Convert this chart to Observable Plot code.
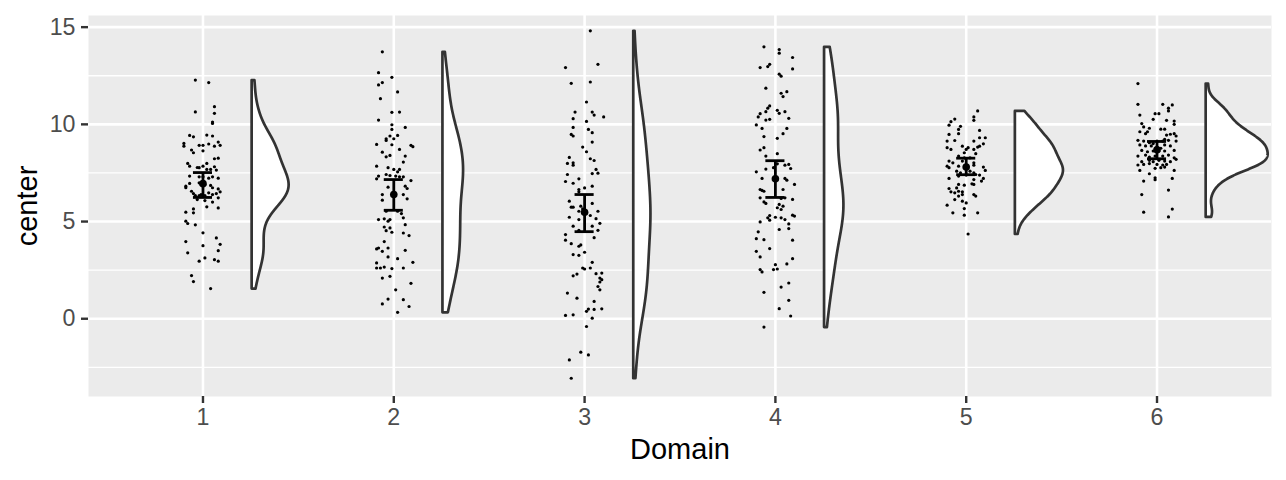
<!DOCTYPE html>
<html>
<head>
<meta charset="utf-8">
<script src="https://cdn.jsdelivr.net/npm/d3@7"></script>
<script src="https://cdn.jsdelivr.net/npm/@observablehq/plot@0.6"></script>
<style>
  html, body { margin: 0; padding: 0; background: #fff; }
  #chart svg { display: block; }
</style>
</head>
<body>
<div id="chart"></div>
<script>
// ---- data ----
const domains = [1, 2, 3, 4, 5, 6];

const g1Value = [12.28,12.15,10.91,10.64,10.57,10.12,10.05,9.43,9.36,9.45,9.40,9.02,8.88,9.09,8.92,8.92,8.92,8.99,8.88,8.68,8.54,8.64,8.26,8.23,7.99,7.85,7.99,7.85,7.77,7.78,7.82,7.68,7.68,7.65,7.34,7.30,7.30,7.23,7.30,7.23,6.82,6.74,6.96,6.99,6.91,6.91,6.86,6.74,6.68,6.56,6.44,6.34,6.34,6.39,6.34,6.48,6.39,6.44,6.53,6.22,6.13,6.08,6.00,5.70,5.76,5.65,5.48,5.45,5.02,4.90,4.83,4.42,4.16,3.97,3.76,3.83,3.50,3.39,3.13,2.96,3.04,2.96,2.22,1.91,1.55];
const g1Jitter = [-0.04,0.03,0.06,-0.04,0.06,0.05,0.05,-0.07,-0.05,0.02,0.05,-0.10,-0.10,0.08,0.09,-0.02,0.00,0.03,0.06,-0.06,-0.05,0.00,0.08,0.06,-0.08,-0.07,0.02,0.00,-0.02,-0.03,0.06,0.04,0.02,0.07,-0.07,-0.02,0.00,0.03,0.05,0.08,-0.09,-0.09,-0.07,-0.02,-0.01,0.01,0.04,0.05,0.08,-0.06,-0.05,-0.04,-0.02,-0.01,0.01,0.03,0.05,0.07,0.09,0.08,-0.03,0.01,0.05,0.08,0.02,-0.05,-0.09,-0.05,-0.09,-0.08,-0.04,0.00,0.07,-0.09,0.00,0.09,0.08,-0.08,0.01,-0.02,0.06,0.08,-0.06,-0.05,0.04];

const g2Value = [13.73,12.66,12.42,12.15,12.03,11.67,11.32,10.62,10.63,10.22,9.98,9.84,9.74,9.43,9.40,9.26,9.26,9.17,8.97,8.92,8.85,8.95,8.71,8.57,8.37,8.33,8.40,8.06,7.85,7.77,7.68,7.56,7.68,7.34,7.20,7.42,7.37,7.34,7.30,7.30,7.11,6.77,6.82,6.70,6.39,6.30,6.39,6.10,6.17,5.53,5.53,5.41,5.19,5.10,5.14,5.02,5.10,4.84,4.72,4.67,4.53,4.45,4.41,4.28,3.97,3.64,3.59,3.64,3.47,3.52,3.18,3.09,2.87,2.90,2.61,2.61,2.66,2.58,2.61,2.09,2.18,1.82,1.49,1.01,0.98,0.76,0.63,0.33];
const g2Jitter = [-0.06,-0.08,-0.01,-0.06,-0.08,0.02,-0.07,-0.01,0.03,-0.08,-0.01,0.06,-0.01,0.02,-0.02,-0.04,0.00,-0.04,-0.09,0.09,0.10,-0.01,0.03,-0.06,0.06,-0.04,-0.02,0.05,-0.09,-0.03,0.00,0.02,0.03,-0.08,-0.09,-0.04,-0.02,0.01,0.03,0.05,0.09,-0.03,0.06,0.07,-0.06,0.00,0.05,-0.06,0.07,-0.04,0.02,0.04,0.05,-0.08,-0.05,-0.03,-0.02,0.06,-0.05,-0.02,-0.04,-0.01,0.05,0.08,-0.05,-0.03,-0.09,-0.08,-0.06,0.06,-0.03,0.02,-0.09,0.10,-0.09,-0.07,-0.05,-0.01,0.05,-0.06,-0.02,0.09,0.01,-0.03,0.05,-0.06,0.08,0.02];

const g3Value = [14.81,12.92,13.09,12.11,12.18,11.15,10.63,10.63,10.48,10.38,10.29,10.15,9.84,9.74,9.57,9.48,9.40,9.09,8.83,8.59,8.30,8.23,8.14,7.99,8.02,7.90,7.68,7.47,7.49,7.42,7.20,7.06,6.97,6.73,6.82,6.65,6.53,6.05,5.93,5.74,5.74,5.79,5.65,5.53,5.44,5.53,5.31,5.22,5.10,5.15,4.91,4.76,4.76,4.55,4.55,4.33,4.04,4.17,3.86,3.80,3.73,3.30,3.26,3.42,2.61,2.56,2.61,2.90,2.21,2.30,2.32,2.35,2.09,2.01,1.89,1.66,1.49,1.32,1.06,0.89,0.51,0.48,0.50,0.38,0.17,0.20,0.03,-0.40,-1.72,-1.86,-2.12,-3.06];
const g3Jitter = [0.03,-0.10,0.07,-0.07,0.03,0.01,-0.05,0.04,0.05,0.10,-0.06,0.01,-0.06,0.02,0.04,-0.07,-0.06,0.04,-0.01,0.01,-0.08,0.03,0.05,-0.09,-0.06,-0.06,0.06,0.04,0.07,-0.09,-0.03,-0.10,-0.06,0.00,0.04,-0.03,-0.03,-0.08,0.04,-0.07,-0.06,-0.02,-0.01,-0.03,0.01,0.07,0.03,-0.08,-0.03,0.06,0.08,-0.06,0.04,0.07,-0.03,-0.10,-0.10,0.05,-0.07,-0.02,-0.03,-0.06,-0.03,0.00,-0.01,0.00,0.03,0.04,-0.06,-0.04,0.06,0.09,0.08,0.09,0.08,0.07,0.08,-0.09,-0.04,0.05,0.09,0.05,0.02,0.01,-0.10,-0.06,0.04,0.01,-0.02,0.02,-0.08,-0.07];

const g4Value = [13.99,13.85,13.66,13.44,12.92,12.97,13.09,12.85,12.58,12.48,11.86,11.60,11.43,11.68,10.95,10.83,10.65,10.72,10.57,10.65,10.55,10.38,10.31,10.22,10.26,9.97,9.79,9.79,9.52,9.28,9.37,8.68,8.80,8.37,8.49,7.90,7.94,7.73,7.97,7.77,7.56,7.70,7.22,7.22,7.13,6.91,6.65,6.60,6.56,6.65,6.22,6.01,5.93,6.19,6.22,6.14,5.88,5.79,5.71,5.62,5.31,5.19,5.07,5.22,5.19,5.10,5.33,5.28,4.98,4.88,4.59,4.64,4.47,4.12,4.07,4.04,3.61,3.47,3.18,3.09,2.82,2.78,2.53,2.56,2.53,2.41,1.84,1.63,1.36,0.95,0.52,0.14,-0.43];
const g4Jitter = [-0.06,0.02,0.02,0.09,-0.08,-0.04,-0.03,0.09,0.02,0.03,-0.05,0.03,0.04,0.06,-0.03,-0.04,-0.05,0.01,0.02,0.05,-0.08,-0.09,0.07,-0.05,-0.03,-0.10,-0.07,0.06,0.04,0.01,-0.06,-0.08,-0.06,-0.05,0.01,0.05,0.07,0.08,0.01,-0.01,-0.10,-0.05,-0.07,0.05,0.06,0.10,-0.08,-0.07,-0.06,0.04,-0.08,-0.06,-0.05,0.03,0.05,0.09,0.02,0.04,0.01,0.03,-0.03,-0.04,-0.03,0.00,0.03,0.05,0.09,0.10,-0.08,0.07,0.02,0.07,-0.09,-0.10,-0.06,0.09,-0.03,-0.10,-0.08,0.09,0.06,0.00,-0.01,0.01,-0.08,-0.07,0.07,0.03,-0.06,0.07,0.02,0.08,-0.06];

const g5Value = [10.69,10.38,10.21,10.27,10.14,9.96,9.90,9.74,9.52,9.69,9.48,9.31,9.31,9.14,9.17,9.14,9.00,8.88,8.83,8.80,8.71,8.88,8.71,8.80,8.71,8.54,8.49,8.37,8.28,8.28,8.11,8.02,8.11,8.02,7.85,7.77,7.85,7.80,7.90,7.90,7.80,7.63,7.59,7.51,7.59,7.51,7.42,7.39,7.22,7.08,7.22,7.34,7.39,7.16,6.94,6.91,6.91,6.87,6.73,6.70,6.53,6.48,6.56,6.53,6.39,6.31,6.31,6.39,6.13,6.05,5.96,5.84,5.67,5.45,5.33,5.45,4.36];
const g5Jitter = [0.06,0.04,0.04,-0.06,-0.08,-0.09,-0.03,-0.04,-0.04,0.07,-0.09,0.07,0.10,-0.10,-0.06,0.04,0.09,0.07,0.06,-0.10,-0.08,-0.02,0.00,0.01,0.04,-0.01,0.05,-0.04,-0.01,0.02,-0.09,-0.07,-0.02,0.04,-0.10,-0.09,-0.04,-0.01,0.00,0.04,0.09,0.10,-0.05,-0.03,0.02,0.04,0.05,0.07,0.09,0.08,-0.09,-0.04,0.00,0.04,0.03,0.04,-0.04,-0.01,-0.05,-0.09,-0.08,-0.06,-0.04,-0.02,0.04,0.05,-0.04,-0.02,-0.06,-0.02,0.00,-0.10,-0.01,-0.07,-0.01,0.06,0.01];

const g6Value = [12.10,11.03,11.03,11.00,10.83,10.69,10.48,10.55,10.55,10.26,10.21,10.17,10.00,10.04,9.87,9.80,9.62,9.75,9.75,9.62,9.52,9.45,9.49,9.52,9.40,9.18,9.14,9.06,9.01,9.14,9.14,9.23,9.18,9.14,8.94,8.89,8.89,8.83,8.77,8.94,8.89,8.66,8.59,8.63,8.63,8.63,8.66,8.37,8.42,8.32,8.37,8.37,8.42,8.28,8.08,8.15,8.08,8.15,8.11,8.08,8.20,7.91,7.94,7.98,7.94,7.91,7.94,7.63,7.74,7.77,7.80,7.63,7.46,7.25,7.15,7.08,7.22,6.62,6.39,5.64,5.48,5.24];
const g6Jitter = [-0.10,-0.10,0.03,0.08,0.06,0.06,-0.09,-0.01,0.01,-0.02,0.05,0.09,0.09,-0.08,-0.07,-0.04,-0.05,0.02,0.04,-0.09,-0.06,0.05,0.07,0.09,0.10,-0.10,-0.07,-0.04,-0.02,0.00,0.03,0.04,0.06,0.10,-0.09,-0.06,-0.03,0.00,0.02,0.04,0.07,-0.08,-0.05,-0.02,0.01,0.04,0.09,-0.10,-0.06,-0.04,-0.01,0.03,0.06,0.09,-0.08,-0.04,-0.02,0.01,0.04,0.07,0.10,-0.10,-0.07,-0.04,0.00,0.03,0.05,-0.09,-0.01,0.02,0.04,0.09,-0.04,-0.01,-0.01,-0.07,0.08,0.06,-0.08,0.08,-0.07,0.06];

// mean and confidence interval per domain
const meanValue = [6.95, 6.39, 5.48, 7.20, 7.80, 8.69];
const ciLow     = [6.24, 5.58, 4.48, 6.24, 7.41, 8.23];
const ciHigh    = [7.52, 7.16, 6.39, 8.13, 8.26, 9.12];

const yTicks = [0, 5, 10, 15];
const yMinor = [-2.5, 2.5, 7.5, 12.5];

// ---- derived tables ----
const allValues = [g1Value, g2Value, g3Value, g4Value, g5Value, g6Value];
const allJitter = [g1Jitter, g2Jitter, g3Jitter, g4Jitter, g5Jitter, g6Jitter];

const points = domains.flatMap((g, i) =>
  allValues[i].map((v, j) => ({g, x: g + (allJitter[i][j] || 0), v})));

const summary = domains.map((g, i) => ({g, m: meanValue[i], lo: ciLow[i], hi: ciHigh[i]}));

function bwNrd0(a) {
  const s = a.slice().sort(d3.ascending);
  const sd = d3.deviation(s);
  const iqr = d3.quantile(s, 0.75) - d3.quantile(s, 0.25);
  const lo = Math.min(sd, iqr / 1.34);
  return 0.9 * lo * Math.pow(s.length, -0.2);
}
const NPTS = 512;
const dens = allValues.map((arr) => {
  const bw = bwNrd0(arr);
  const lo = d3.min(arr), hi = d3.max(arr);
  return d3.range(NPTS).map(k => {
    const y = lo + k * (hi - lo) / (NPTS - 1);
    let s = 0;
    for (const v of arr) { const z = (y - v) / bw; s += Math.exp(-0.5 * z * z); }
    return {y, d: s / (arr.length * bw * Math.sqrt(2 * Math.PI))};
  });
});
const maxD = d3.max(dens, ds => d3.max(ds, r => r.d));
const NUDGE = 0.255, MAXW = 0.325;
const violinFill = domains.flatMap((g, i) =>
  dens[i].map(r => ({g, y: r.y, x0: g + NUDGE, x1: g + NUDGE + r.d / maxD * MAXW})));
const violinLine = domains.flatMap((g, i) => {
  const ds = dens[i];
  const lo = ds[0].y, hi = ds[ds.length - 1].y;
  const pts = [{g, x: g + NUDGE, y: lo}, {g, x: g + NUDGE, y: hi}];
  for (let k = ds.length - 1; k >= 0; k--) pts.push({g, x: g + NUDGE + ds[k].d / maxD * MAXW, y: ds[k].y});
  pts.push({g, x: g + NUDGE, y: lo});
  return pts;
});

const chart = Plot.plot({
  width: 1286,
  height: 480,
  marginLeft: 88,
  marginRight: 15,
  marginTop: 15,
  marginBottom: 84,
  style: {fontFamily: "'Liberation Sans', Arial, sans-serif", background: "white", fontSize: "23px"},
  x: {type: "linear", domain: [0.4, 6.6]},
  y: {type: "linear", domain: [-4.0, 15.6]},
  marks: [
    Plot.frame({fill: "#EBEBEB", stroke: "none"}),
    Plot.ruleY(yMinor, {stroke: "white", strokeWidth: 1.3}),
    Plot.ruleY(yTicks, {stroke: "white", strokeWidth: 2.6}),
    Plot.ruleX(domains, {stroke: "white", strokeWidth: 2.6}),
    Plot.areaX(violinFill, {y: "y", x1: "x0", x2: "x1", z: "g", fill: "white", curve: "linear"}),
    Plot.line(violinLine, {x: "x", y: "y", z: "g", stroke: "#333333", strokeWidth: 2.7, curve: "linear", strokeLinejoin: "round"}),
    Plot.dot(points, {x: "x", y: "v", r: 1.6, fill: "black", stroke: "none"}),
    Plot.ruleX(summary, {x: "g", y1: "lo", y2: "hi", stroke: "black", strokeWidth: 2.8}),
    Plot.ruleY(summary, {y: "lo", x1: d => d.g - 0.05, x2: d => d.g + 0.05, stroke: "black", strokeWidth: 2.8}),
    Plot.ruleY(summary, {y: "hi", x1: d => d.g - 0.05, x2: d => d.g + 0.05, stroke: "black", strokeWidth: 2.8}),
    Plot.dot(summary, {x: "g", y: "m", r: 3.8, fill: "black", stroke: "none"}),
    Plot.axisY({ticks: yTicks, tickSize: 7, tickPadding: 6, fontSize: 23.2, stroke: "#333333", fill: "#4D4D4D", strokeWidth: 2.4, label: null, tickFormat: d => String(d)}),
    Plot.axisX({ticks: domains, tickSize: 7, tickPadding: 5.5, fontSize: 23.2, stroke: "#333333", fill: "#4D4D4D", strokeWidth: 2.4, label: null, tickFormat: d => String(d)}),
    Plot.text(["Domain"], {text: d => d, frameAnchor: "bottom", textAnchor: "middle", lineAnchor: "middle", dy: 53, fontSize: 29, fill: "black"}),
    Plot.text(["center"], {text: d => d, frameAnchor: "left", textAnchor: "middle", lineAnchor: "middle", dx: -61, rotate: -90, fontSize: 29, fill: "black"})
  ]
});
document.getElementById("chart").appendChild(chart);
</script>
</body>
</html>
